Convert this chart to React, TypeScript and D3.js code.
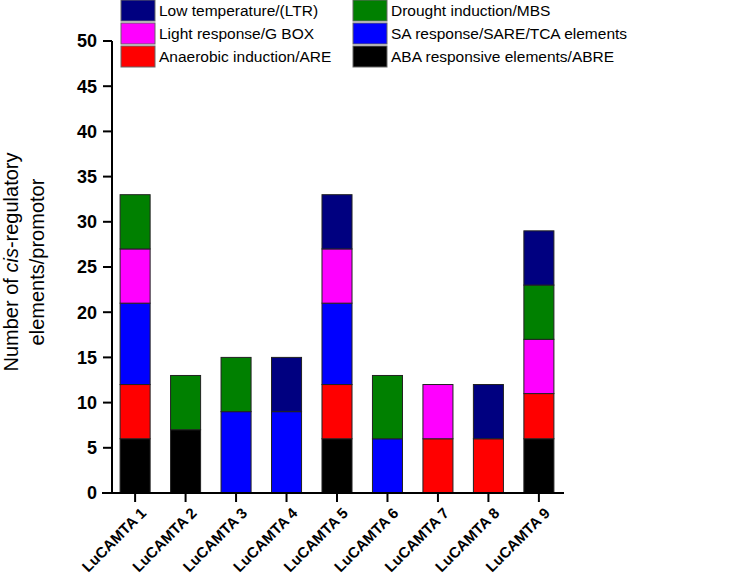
import React from "react";
import * as d3 from "d3";

const categories = ["LuCAMTA 1", "LuCAMTA 2", "LuCAMTA 3", "LuCAMTA 4", "LuCAMTA 5", "LuCAMTA 6", "LuCAMTA 7", "LuCAMTA 8", "LuCAMTA 9"];
// stacked bottom to top
const ABRE = [6, 7, 0, 0, 6, 0, 0, 0, 6];
const ARE = [6, 0, 0, 0, 6, 0, 6, 6, 5];
const SARE = [9, 0, 9, 9, 9, 6, 0, 0, 0];
const GBOX = [6, 0, 0, 0, 6, 0, 6, 0, 6];
const MBS = [6, 6, 6, 0, 0, 7, 0, 0, 6];
const LTR = [0, 0, 0, 6, 6, 0, 0, 6, 6];
const yTicks = [0, 5, 10, 15, 20, 25, 30, 35, 40, 45, 50];

const series = [
  { name: "ABA responsive elements/ABRE", values: ABRE, color: "#000000" },
  { name: "Anaerobic induction/ARE", values: ARE, color: "#ff0000" },
  { name: "SA response/SARE/TCA elements", values: SARE, color: "#0000ff" },
  { name: "Light response/G BOX", values: GBOX, color: "#ff00ff" },
  { name: "Drought induction/MBS", values: MBS, color: "#008000" },
  { name: "Low temperature/(LTR)", values: LTR, color: "#000080" },
];

const legendCols = [
  ["Low temperature/(LTR)", "Light response/G BOX", "Anaerobic induction/ARE"],
  ["Drought induction/MBS", "SA response/SARE/TCA elements", "ABA responsive elements/ABRE"],
];

export default function App() {
  const W = 740, H = 585;
  const y = d3.scaleLinear().domain([0, 50]).range([493, 41]);
  const x = d3.scaleBand<string>().domain(categories).range([110, 564]).paddingInner(0.405).paddingOuter(0.2);
  const keys = series.map((s) => s.name);
  const table = categories.map((c, i) => {
    const row: any = { cat: c };
    series.forEach((s) => (row[s.name] = s.values[i]));
    return row;
  });
  const stacked = d3.stack<any>().keys(keys)(table);
  const colorOf = (n: string) => series.find((s) => s.name === n)!.color;
  const font = "'Liberation Sans', Arial, sans-serif";

  return (
    <svg width={W} height={H} style={{ position: "absolute", left: 0, top: 0 }} fontFamily={font}>
      <rect width={W} height={H} fill="#fff" />
      {stacked.map((layer) =>
        layer.map((d, i) => {
          const v = d[1] - d[0];
          if (v <= 0) return null;
          return (
            <rect
              key={layer.key + i}
              x={x(categories[i])}
              y={y(d[1])}
              width={x.bandwidth()}
              height={y(d[0]) - y(d[1])}
              fill={colorOf(layer.key)}
              stroke="#222"
              strokeWidth={1}
            />
          );
        })
      )}
      {/* y axis */}
      <line x1={112} x2={112} y1={y(50)} y2={y(0)} stroke="#000" strokeWidth={2} />
      {yTicks.map((t) => (
        <g key={t}>
          <line x1={103} x2={112} y1={y(t)} y2={y(t)} stroke="#000" strokeWidth={2} />
          <text x={97} y={y(t)} dy="0.35em" textAnchor="end" fontSize={18} fontWeight="bold">
            {t}
          </text>
        </g>
      ))}
      {/* x axis */}
      <line x1={102} x2={564} y1={y(0)} y2={y(0)} stroke="#000" strokeWidth={2} />
      {categories.map((c) => {
        const cx = x(c)! + x.bandwidth() / 2;
        return (
          <g key={c}>
            <line x1={cx} x2={cx} y1={y(0)} y2={y(0) + 9} stroke="#000" strokeWidth={2} />
            <text
              transform={`translate(${cx + 12},${y(0) + 21}) rotate(-45)`}
              textAnchor="end"
              fontSize={15}
              fontWeight="bold"
            >
              {c}
            </text>
          </g>
        );
      })}
      {/* y title */}
      <text transform="translate(17.5,262) rotate(-90)" textAnchor="middle" fontSize={20}>
        Number of <tspan fontStyle="italic">cis</tspan>-regulatory
      </text>
      <text transform="translate(43.5,262) rotate(-90)" textAnchor="middle" fontSize={20}>
        elements/promotor
      </text>
      {/* legend */}
      {legendCols.map((col, ci) =>
        col.map((name, ri) => {
          const sx = ci === 0 ? 121 : 353;
          const sy = ri * 23;
          return (
            <g key={name}>
              <rect x={sx} y={sy} width={34} height={21} fill={colorOf(name)} stroke="#666" strokeWidth={1} />
              <text x={sx + 38} y={sy + 10.5} dy="0.35em" fontSize={15.5}>
                {name}
              </text>
            </g>
          );
        })
      )}
    </svg>
  );
}
